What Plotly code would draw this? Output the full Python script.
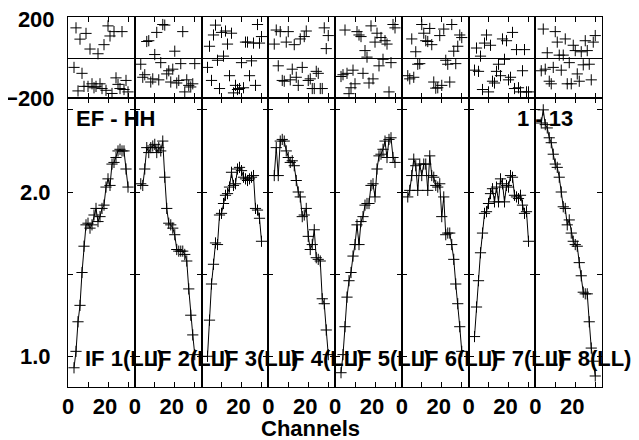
import plotly.graph_objects as go
from plotly.subplots import make_subplots

# channel numbers shown in every IF panel
channels = list(range(3, 31))

# amplitude per IF (LL)
amp_if1 = [0.93, 1.03, 1.21, 1.31, 1.51, 1.67, 1.80, 1.81, 1.78, 1.80, 1.86, 1.90, 1.82, 1.85,
           1.90, 1.92, 2.03, 2.08, 2.04, 2.17, 2.18, 2.21, 2.25, 2.26, 2.25, 2.25, 2.14, 2.03]
amp_if2 = [2.05, 2.04, 2.14, 2.27, 2.24, 2.27, 2.28, 2.29, 2.24, 2.27, 2.25, 2.31, 2.09, 1.90,
           1.81, 1.80, 1.78, 1.74, 1.65, 1.64, 1.64, 1.64, 1.62, 1.58, 1.41, 1.25, 1.13, 1.01]
amp_if3 = [1.00, 1.22, 1.44, 1.56, 1.69, 1.68, 1.86, 1.87, 1.93, 1.98, 1.99, 2.03, 2.12, 2.04,
           2.05, 2.14, 2.15, 2.13, 2.09, 2.08, 2.07, 2.08, 2.09, 2.10, 1.90, 1.89, 1.84, 1.70]
amp_if4 = [2.10, 2.27, 2.10, 2.31, 2.32, 2.31, 2.25, 2.21, 2.18, 2.19, 2.16, 2.07, 2.00, 1.97,
           1.85, 1.86, 1.90, 1.73, 1.65, 1.68, 1.77, 1.60, 1.59, 1.58, 1.35, 1.32, 1.16, 1.01]
amp_if5 = [0.90, 1.01, 1.18, 1.36, 1.46, 1.51, 1.61, 1.68, 1.80, 1.68, 1.82, 1.85, 1.92, 1.93,
           1.93, 2.04, 2.05, 1.97, 2.14, 2.22, 2.23, 2.26, 2.31, 2.21, 2.32, 2.33, 2.21, 2.18]
amp_if6 = [1.97, 2.01, 2.10, 2.20, 2.16, 2.01, 2.17, 2.10, 2.17, 2.17, 2.01, 2.22, 2.10, 2.09,
           2.04, 2.03, 2.05, 1.85, 1.97, 1.74, 1.75, 1.75, 1.68, 1.59, 1.44, 1.32, 1.18, 1.03]
amp_if7 = [1.12, 1.30, 1.46, 1.63, 1.75, 1.87, 1.88, 1.93, 1.99, 2.02, 1.94, 2.03, 1.94, 2.08,
           2.05, 1.94, 2.04, 2.03, 2.10, 2.09, 1.98, 1.97, 1.96, 1.98, 1.92, 1.87, 1.88, 1.70]
amp_if8 = [2.42, 2.50, 2.41, 2.39, 2.33, 2.30, 2.23, 2.17, 2.15, 2.09, 2.00, 1.91, 1.90, 1.80,
           1.83, 1.75, 1.70, 1.68, 1.67, 1.57, 1.49, 1.39, 1.38, 1.38, 1.21, 1.05, 0.97, 0.88]

# phase per IF (degrees)
phase_if1 = [-45, 155, -164, 98, -75, -141, 127, -141, 48, -128, -148, -141, 24, -128,
             -152, 70, -161, 165, 114, -177, 136, -98, -131, -152, 136, -157, -111, -169]
phase_if2 = [-29, -95, -82, 86, 90, -119, -103, 20, 132, -108, -21, 172, 169, -78,
             -62, -119, -54, 37, -124, -111, -26, 136, -169, -108, -136, -144, -128, -26]
phase_if3 = [-45, 62, -111, 119, 169, -9, -152, 132, 12, 139, 73, -87, 128, -174,
             -136, -157, -152, -21, -148, 83, 83, -87, -12, 78, -136, 172, 78, 111]
phase_if4 = [73, 144, -37, 136, -111, -115, 83, 136, -108, -54, 70, -95, -136, 99,
             -45, 111, 139, -111, -103, -152, -152, -65, -75, -152, -152, 155, 50, 116]
phase_if5 = [-91, -82, 144, -75, -178, -148, -59, -128, 136, 119, 111, -75, 40, 7,
             -124, 165, -103, 83, 128, -37, 106, -4, 90, 73, -169, -21, 172, 155]
phase_if6 = [-87, -103, 99, -95, 34, -29, -26, 172, 128, 90, 86, 152, 70, -119,
             -150, -148, 116, -136, 149, -9, -29, -119, 172, 37, -26, 62, 119, 106]
phase_if7 = [-59, 53, -65, 12, -157, 78, 119, -169, 67, -115, -124, -65, -29, -87,
             99, -4, 90, -108, -95, 132, -152, 45, -148, -169, -62, 45, -169, -169]
phase_if8 = [-62, 149, -54, 29, -115, -128, -45, 136, 83, 17, -59, 17, 99, -128,
             -21, -128, 67, 40, -78, -115, 34, -32, 90, 40, -29, -108, 83, 116]

amps = [amp_if1, amp_if2, amp_if3, amp_if4, amp_if5, amp_if6, amp_if7, amp_if8]
phases = [phase_if1, phase_if2, phase_if3, phase_if4, phase_if5, phase_if6, phase_if7, phase_if8]
if_labels = ["IF 1(LL)", "IF 2(LL)", "IF 3(LL)", "IF 4(LL)",
             "IF 5(LL)", "IF 6(LL)", "IF 7(LL)", "IF 8(LL)"]

# the page sits 8px in from the window corner, so pull the figure back by that much
OFF = 8
W, H = 639, 440
plot_w, plot_h = 534, 370
ML, MT = 68 - OFF, 17 - OFF
MR = W - ML - plot_w
MB = H - MT - plot_h
n = len(amps)

fig = make_subplots(rows=2, cols=n, row_heights=[0.219, 0.781],
                    horizontal_spacing=0, vertical_spacing=0)

plus = dict(symbol="cross-thin", size=8, color="black", line=dict(color="black", width=1))

for i in range(n):
    fig.add_trace(go.Scatter(x=channels, y=phases[i], mode="markers", marker=plus,
                             showlegend=False), row=1, col=i + 1)
    fig.add_trace(go.Scatter(x=channels, y=amps[i], mode="lines+markers",
                             line=dict(color="black", width=1), marker=plus,
                             showlegend=False), row=2, col=i + 1)

fig.update_xaxes(range=[0, plot_w / n / 2], tickvals=[0, 10, 20, 30],
                 ticktext=["0", "", "20\u00a0", ""], ticks="inside", ticklen=5,
                 tickcolor="black", showline=True, linecolor="black", linewidth=1,
                 mirror="ticks", showgrid=False, zeroline=False, ticklabelstandoff=0,
                 automargin=False, ticklabeloverflow="allow")
fig.update_xaxes(showticklabels=False, row=1)

fig.update_yaxes(showline=True, linecolor="black", linewidth=1, showgrid=False,
                 automargin=False, ticklabeloverflow="allow")
fig.update_yaxes(range=[-200, 210], tickvals=[-200, 200], ticks="", mirror=True,
                 zeroline=True, zerolinecolor="black", zerolinewidth=1,
                 ticklabelstandoff=8, row=1)
fig.update_yaxes(range=[0.813, 2.572], tickvals=[1.0, 1.5, 2.0, 2.5],
                 ticktext=["1.0", "", "2.0", ""], ticks="inside", ticklen=5,
                 tickcolor="black", mirror="ticks", zeroline=False,
                 ticklabelstandoff=12, row=2)
for c in range(2, n + 1):
    fig.update_yaxes(showticklabels=False, col=c)


# helpers: reference-picture pixels -> paper coordinates
def px_x(x):
    return (x - OFF - ML) / plot_w


def px_y(y):
    return (MT + plot_h - (y - OFF)) / plot_h


fig.add_annotation(text="EF - HH", x=px_x(74), y=px_y(118), xref="paper", yref="paper",
                   xanchor="left", yanchor="middle", showarrow=False)
fig.add_annotation(text="1 - 13", x=px_x(575), y=px_y(118), xref="paper", yref="paper",
                   xanchor="right", yanchor="middle", showarrow=False)
for i, lab in enumerate(if_labels):
    fig.add_annotation(text=lab, x=(i + 15 / (plot_w / n)) / n, y=px_y(358),
                       xref="paper", yref="paper", xanchor="left", yanchor="middle",
                       showarrow=False)
fig.add_annotation(text="Channels", x=px_x(310), y=px_y(428), xref="paper", yref="paper",
                   xanchor="center", yanchor="middle", showarrow=False)

fig.update_layout(width=W, height=H, autosize=False,
                  margin=dict(l=ML, r=MR, t=MT, b=MB),
                  paper_bgcolor="white", plot_bgcolor="white",
                  font=dict(family="Liberation Sans, Arial", size=22, color="black",
                            weight="bold"))

fig.write_html("out.html")
